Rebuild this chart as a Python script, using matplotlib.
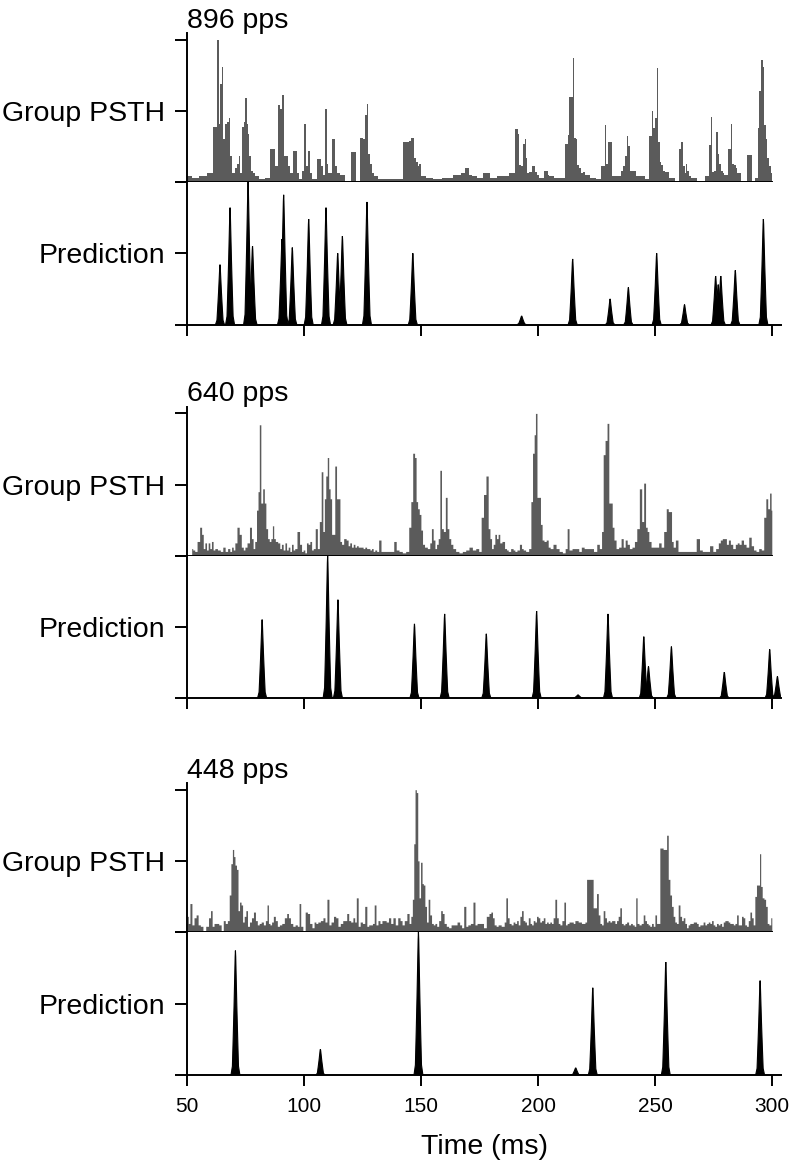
import matplotlib.pyplot as plt
import numpy as np

plt.rcParams['font.family'] = ['Liberation Sans', 'DejaVu Sans']

# pulse rates of the three stimuli
rates = ['896 pps', '640 pps', '448 pps']

# group PSTH: bin time (ms) and height (% of the upper y tick)
psth896_t = [
    50.2, 53.7, 56.6, 60.8, 61.7, 62.4, 63.3, 64.0, 64.4, 65.1,
    65.8, 66.7, 67.4, 68.2, 68.9, 69.7, 70.9, 71.7, 72.4, 73.1,
    73.8, 74.5, 75.1, 75.8, 76.4, 76.9, 77.7, 78.4, 79.4, 82.2,
    84.6, 86.6, 88.6, 89.5, 90.2, 90.9, 91.6, 92.3, 93.0, 93.7,
    94.5, 96.5, 97.2, 98.6, 100.0, 100.4, 101.2, 102.0, 102.7, 104.3,
    107.1, 107.8, 108.6, 109.3, 110.0, 110.7, 113.1, 113.7, 114.3, 116.4,
    118.5, 121.4, 122.8, 125.1, 125.7, 126.5, 127.2, 127.9, 128.6, 129.4,
    130.6, 132.8, 137.0, 139.9, 144.6, 145.3, 146.0, 146.7, 147.5, 148.2,
    148.9, 149.6, 150.6, 153.4, 157.0, 161.3, 166.3, 167.7, 169.5, 171.2,
    172.7, 174.8,
    178.1, 181.2, 184.0, 186.2, 189.3, 190.9, 191.6, 192.3, 193.0, 193.9,
    194.6, 195.2, 195.7, 196.9, 198.3, 199.0, 199.7, 201.1, 203.7, 204.4,
    205.4, 208.3, 210.4, 212.3, 213.0, 213.7, 214.4, 215.1, 215.8, 216.5,
    217.2, 218.0, 218.7, 219.7, 220.4, 223.6, 225.6, 228.2, 228.9, 229.6,
    230.3, 231.1, 231.9, 232.9, 235.3, 236.0, 236.8, 237.5, 238.2, 238.9,
    239.6, 240.3, 241.0, 242.4, 244.6, 246.7, 248.2, 248.9, 249.6, 250.3,
    251.0, 251.7, 252.4, 253.1, 253.8, 254.6, 257.4, 259.5, 261.0, 261.5,
    262.3, 263.0, 263.5, 264.2, 264.9, 265.9, 270.2, 272.8, 273.5, 274.2,
    274.9, 275.6, 276.4, 277.1, 277.8, 278.5, 279.2, 279.9, 282.1, 282.6,
    283.3, 284.1, 284.8, 285.5, 288.0, 290.7, 292.3, 293.4, 294.2, 294.9,
    295.6, 296.3, 297.0, 297.7, 298.4, 299.1, 299.9]
psth896_h = [
    4, 3, 4, 6, 39, 39, 100, 41, 69, 81,
    30, 41, 42, 45, 18, 6, 10, 13, 18, 6,
    39, 42, 59, 41, 34, 18, 8, 6, 4, 2,
    3, 23, 11, 54, 51, 61, 18, 18, 18, 11,
    6, 22, 6, 2, 8, 41, 11, 22, 6, 2,
    16, 11, 5, 51, 13, 6, 30, 11, 6, 5,
    1, 21, 1, 31, 30, 47, 55, 20, 13, 6,
    4, 2, 2, 2, 28, 29, 31, 31, 17, 14,
    11, 13, 4, 3, 2, 3, 5, 6, 10, 5,
    4, 3,
    6, 3, 4, 4, 6, 37, 34, 12, 11, 27,
    30, 17, 6, 7, 11, 7, 5, 3, 8, 5,
    4, 3, 3, 27, 33, 60, 60, 87, 31, 30,
    12, 10, 6, 7, 5, 3, 2, 11, 40, 13,
    28, 28, 4, 4, 4, 8, 11, 18, 32, 25,
    8, 8, 8, 4, 4, 2, 32, 50, 38, 45,
    80, 28, 14, 12, 8, 7, 3, 1, 23, 28,
    11, 6, 13, 8, 4, 3, 1, 4, 26, 46,
    7, 8, 35, 20, 13, 8, 6, 5, 23, 41,
    13, 12, 10, 6, 1, 19, 1, 3, 38, 64,
    86, 81, 40, 30, 17, 11, 6]

psth640_t = [
    52.0, 52.9, 53.7, 54.9, 55.9, 56.6, 57.3, 58.0, 58.7, 59.4,
    60.1, 60.8, 61.5, 62.3, 63.7, 64.8, 65.8, 66.8, 67.9, 68.7,
    69.4, 70.1, 70.8, 71.9, 72.7, 73.7, 74.4, 75.1, 76.2, 77.2,
    77.9, 78.6, 79.3, 80.1, 80.6, 81.2, 81.9, 82.8, 83.3, 84.1,
    84.8, 85.5, 86.2, 86.8, 87.3, 88.2, 89.3, 90.0, 90.7, 91.5,
    92.2, 92.9, 93.6, 94.3, 95.0, 95.7, 96.4, 97.6, 98.6, 99.3,
    100.0, 100.7, 101.4, 102.1, 102.9, 103.6, 104.3, 105.3, 106.1, 107.0,
    107.7, 108.4, 109.0, 109.6, 110.3, 110.8, 111.5, 112.1, 112.8, 113.5,
    114.3, 115.0, 115.7, 116.4, 117.5, 118.5, 119.2, 119.9, 120.7, 121.4,
    122.1, 122.8, 123.5, 124.2, 124.9, 125.6, 126.4, 127.1, 127.8, 128.5,
    129.2, 129.9, 130.6, 131.5, 132.3, 133.5, 134.9, 136.3, 137.8, 138.9,
    139.9, 141.3, 142.7, 144.2, 145.3, 146.0, 146.9, 147.6, 148.2, 148.9,
    149.6, 150.3, 151.0, 152.0, 153.4, 154.1, 154.8, 155.6, 156.3, 157.0,
    157.7, 158.4, 159.1, 160.0, 160.8, 161.5, 162.3, 163.1, 164.1, 165.5,
    166.9, 168.4, 169.8, 171.2, 172.7, 174.1, 175.2, 176.2,
    177.2, 178.3, 179.1, 179.8, 180.5, 181.2, 181.9, 182.6, 183.3, 184.0,
    185.2, 186.2, 186.9, 187.6, 189.0, 189.7, 190.5, 191.5, 192.6, 193.3,
    194.0, 195.4, 196.6, 197.3, 198.0, 198.7, 199.1, 200.0, 200.7, 201.4,
    202.1, 203.0, 204.0, 204.7, 205.7, 207.1, 208.3, 209.7, 211.1, 212.1,
    212.8, 213.7, 215.4, 216.8, 218.0, 219.0, 220.4, 221.8, 222.8, 224.6,
    225.6, 226.8, 227.5, 228.2, 229.1, 229.9, 230.6, 231.3, 232.1, 232.8,
    233.9, 235.0, 236.0, 236.8, 237.7, 238.5, 239.6, 240.7, 241.7, 242.7,
    243.9, 244.7, 245.6, 246.3, 247.0, 247.7, 248.9, 249.9, 251.0, 252.1,
    253.1, 254.3, 255.3, 256.0, 256.7, 257.4, 258.1, 259.3, 260.3, 262.4,
    264.5, 266.7, 268.5, 269.5, 270.9, 272.4, 274.2, 275.2, 276.6, 277.5,
    278.3, 279.2, 280.1, 280.9, 281.8, 282.6, 283.8, 284.8, 285.5, 286.3,
    287.3, 288.3, 289.5, 290.6, 291.6, 292.6, 293.7, 294.9, 295.9, 297.0,
    297.7, 298.6, 299.3, 299.9]
psth640_h = [
    5, 4, 3, 10, 20, 15, 5, 9, 4, 9,
    5, 10, 4, 5, 4, 3, 6, 3, 5, 3,
    6, 4, 9, 20, 15, 6, 4, 6, 9, 20,
    12, 5, 10, 32, 45, 92, 37, 47, 37, 19,
    12, 10, 12, 21, 12, 10, 9, 5, 8, 4,
    9, 4, 6, 3, 8, 4, 5, 17, 8, 3,
    4, 2, 9, 8, 10, 4, 5, 19, 5, 24,
    59, 17, 40, 56, 69, 47, 40, 15, 15, 63,
    40, 40, 10, 8, 12, 11, 7, 9, 6, 8,
    6, 7, 6, 6, 6, 5, 6, 5, 5, 4,
    5, 3, 4, 3, 11, 3, 3, 3, 3, 10,
    4, 3, 2, 3, 20, 38, 72, 69, 38, 33,
    29, 18, 8, 6, 5, 9, 19, 11, 5, 8,
    12, 60, 19, 17, 41, 19, 12, 8, 5, 3,
    2, 3, 4, 6, 4, 5, 3, 27,
    43, 56, 19, 12, 5, 8, 15, 12, 15, 9,
    10, 5, 4, 3, 5, 4, 3, 4, 8, 5,
    4, 3, 5, 38, 72, 85, 100, 41, 41, 22,
    11, 10, 11, 6, 5, 8, 5, 3, 2, 5,
    19, 4, 5, 5, 3, 6, 5, 5, 5, 3,
    8, 5, 17, 71, 81, 93, 37, 37, 20, 11,
    5, 6, 12, 6, 11, 8, 5, 6, 10, 19,
    47, 24, 51, 20, 17, 10, 6, 6, 6, 9,
    6, 17, 33, 31, 31, 10, 6, 11, 3, 3,
    3, 3, 12, 4, 3, 3, 7, 3, 5, 9,
    11, 12, 12, 8, 11, 8, 5, 8, 9, 8,
    11, 8, 6, 13, 7, 4, 3, 5, 4, 27,
    40, 33, 44, 32]

psth448_t = [
    50.2, 50.9, 51.6, 52.6, 53.4, 54.4, 55.1, 56.3, 57.3, 58.7,
    59.7, 60.4, 61.1, 62.0, 63.0, 64.1, 65.1, 65.9, 66.8, 67.7,
    68.4, 69.1, 69.7, 70.2, 70.8, 71.5, 72.1, 72.8, 73.4, 74.1,
    74.8, 75.5, 76.2, 77.2, 77.9, 78.9, 79.6, 80.5, 81.2, 82.2,
    83.1, 83.9, 84.5, 85.1, 85.8, 86.5, 87.3, 88.2, 89.0, 90.0,
    91.0, 92.2, 93.0, 93.7, 94.7, 95.7, 96.7, 97.6, 98.2, 99.0,
    100.0, 101.0, 101.9, 102.9, 103.9, 104.7, 105.4, 106.4, 107.6, 108.6,
    109.3, 110.3, 111.0, 112.1, 113.1, 114.0, 115.0, 116.0, 117.1, 117.8,
    118.7, 119.5, 120.4, 121.4, 121.9, 122.8, 123.5, 124.5, 125.4, 126.5,
    127.2, 128.1, 128.9, 129.6, 130.4, 131.1, 132.1, 132.8, 133.8, 134.6,
    135.6, 136.6, 137.5, 138.5, 139.5, 140.6, 141.5, 142.3, 143.4, 144.5,
    145.3, 146.0, 146.6, 147.2, 147.7, 148.3, 148.9, 149.4, 150.2, 150.7,
    151.3, 152.0, 152.7, 153.4, 154.1, 154.9, 155.6, 156.3, 157.1, 158.0,
    158.8, 159.4, 160.3, 161.3, 162.3, 163.4, 164.8, 166.0, 167.0, 167.7,
    168.8, 169.5, 170.5, 171.7, 172.7, 173.4, 174.5,
    176.2, 177.2, 178.6, 179.5, 180.2, 180.9, 181.6, 182.6, 183.3, 185.2,
    185.9, 186.6, 187.3, 188.0, 189.0, 189.7, 190.5, 191.2, 191.9, 192.6,
    193.3, 194.0, 194.7, 195.4, 196.3, 196.9, 197.6, 198.3, 199.0, 199.7,
    200.4, 201.1, 201.9, 202.6, 203.3, 204.0, 204.7, 205.4, 206.1, 206.8,
    207.6, 208.3, 209.0, 209.7, 210.7, 211.4, 212.1, 212.8, 213.7, 214.7,
    215.4, 216.1, 216.8, 217.5, 218.2, 218.9, 219.7, 220.4, 221.1, 221.8,
    222.5, 223.2, 223.9, 224.6, 225.4, 226.1, 226.8, 227.5, 228.2, 228.9,
    229.6, 230.3, 231.1, 231.8, 232.5, 233.2, 233.9, 234.6, 235.3, 236.0,
    236.8, 237.5, 238.2, 239.2, 239.9, 240.7, 241.5, 242.0, 242.7, 243.6,
    244.6, 245.3, 246.0, 246.7, 247.4, 248.1, 248.9, 249.6, 250.3, 251.0,
    251.7, 252.4, 253.1, 253.8, 254.6, 255.3, 256.0, 256.7, 257.4, 258.1,
    258.8, 259.5, 260.3, 261.0, 261.7, 262.4, 263.1, 263.8, 264.5, 265.2,
    266.0, 266.7, 267.4, 268.1, 268.8, 269.5, 270.2, 270.9, 271.7, 272.4,
    273.1, 273.8, 274.5, 275.2, 275.9, 276.6, 277.4, 278.1, 278.8, 279.5,
    280.2, 280.9, 281.6, 282.3, 283.1, 283.8, 284.5, 285.2, 285.9, 286.6,
    287.3, 288.0, 288.7, 289.5, 290.2, 290.9, 291.6, 292.3, 293.0, 293.7,
    294.4, 294.9, 295.4, 296.2, 296.9, 297.6, 298.3, 299.0, 299.9]
psth448_h = [
    11, 6, 20, 5, 10, 12, 5, 4, 1, 4,
    10, 15, 4, 6, 6, 5, 1, 8, 6, 8,
    26, 48, 58, 53, 47, 44, 15, 21, 19, 7,
    11, 15, 4, 7, 10, 14, 8, 5, 6, 7,
    5, 8, 19, 6, 5, 7, 11, 8, 4, 5,
    6, 10, 13, 10, 6, 4, 5, 4, 20, 4,
    1, 14, 13, 6, 3, 7, 6, 7, 8, 10,
    7, 23, 5, 7, 11, 10, 4, 6, 8, 8,
    13, 8, 7, 10, 7, 24, 4, 7, 6, 18,
    4, 5, 5, 6, 19, 5, 8, 6, 8, 8,
    7, 10, 6, 10, 5, 10, 8, 5, 8, 13,
    6, 11, 23, 62, 100, 98, 50, 24, 49, 34,
    33, 18, 7, 23, 12, 6, 5, 6, 4, 8,
    15, 13, 6, 4, 3, 5, 5, 7, 5, 3,
    18, 4, 5, 6, 21, 5, 6,
    6, 3, 11, 13, 14, 10, 5, 4, 5, 4,
    7, 24, 10, 6, 5, 7, 6, 8, 5, 11,
    15, 8, 7, 5, 10, 6, 5, 8, 7, 11,
    10, 7, 8, 10, 6, 7, 6, 7, 6, 10,
    23, 10, 6, 5, 8, 21, 5, 6, 7, 7,
    6, 8, 8, 7, 7, 6, 6, 7, 37, 37,
    37, 37, 17, 17, 27, 12, 6, 5, 15, 10,
    7, 8, 7, 8, 8, 6, 8, 11, 17, 6,
    5, 6, 7, 5, 6, 5, 4, 24, 6, 5,
    6, 12, 8, 6, 5, 4, 6, 4, 12, 6,
    6, 59, 59, 58, 58, 68, 37, 26, 18, 11,
    7, 6, 19, 11, 8, 10, 6, 3, 5, 6,
    6, 7, 7, 6, 4, 5, 5, 7, 5, 6,
    7, 6, 8, 5, 4, 6, 5, 6, 4, 7,
    8, 8, 7, 6, 6, 5, 6, 12, 5, 5,
    11, 10, 5, 4, 8, 14, 10, 5, 25, 33,
    33, 55, 32, 24, 23, 18, 6, 5, 10]

# model prediction: peak times (ms) and peak heights (% of axis)
pred896_t = [64.1, 68.4, 76.1, 78.0, 90.6, 91.3, 95.0, 102.0, 109.4, 114.4,
             116.4, 126.9, 146.5, 193.0, 214.8, 230.8, 238.6, 250.7, 262.6,
             275.9, 277.0, 278.1, 284.3, 296.3]
pred896_h = [42, 82, 100, 55, 60, 91, 54, 74, 82, 50,
             62, 86, 50, 6, 46, 18, 26, 50, 14,
             34, 28, 34, 38, 74]
pred640_t = [82.1, 110.1, 114.5, 147.2, 160.1, 177.9, 199.4, 217.1, 229.9,
             245.2, 247.2, 257.0, 279.6, 299.0, 302.3]
pred640_h = [55, 100, 69, 52, 59, 45, 61, 2, 59,
             43, 22, 36, 18, 34, 15]
pred448_t = [70.7, 107.0, 148.9, 216.1, 223.4, 254.6, 294.9]
pred448_h = [87, 18, 100, 5, 61, 79, 66]

# shape of one predicted peak: time offset (ms), relative height
peak_dt = [-1.9, -1.3, -0.95, -0.6, -0.3, -0.12, 0.0,
           0.12, 0.3, 0.6, 0.95, 1.3, 1.9]
peak_shape = [0.0, 0.07, 0.3, 0.55, 0.8, 0.95, 1.0,
              0.95, 0.8, 0.55, 0.3, 0.07, 0.0]

psth_t = [psth896_t, psth640_t, psth448_t]
psth_h = [psth896_h, psth640_h, psth448_h]
pred_t = [pred896_t, pred640_t, pred448_t]
pred_h = [pred896_h, pred640_h, pred448_h]

# ---- layout (pixels of a 789 x 1166 figure) ----
W, H = 789, 1166
x_left, x_right = 187, 781.4
psth_span = 148.7
# (psth baseline, prediction baseline) for each block
baselines = [(182, 324.5), (555.7, 697.7), (932, 1075)]

fig = plt.figure(figsize=(W / 100, H / 100), dpi=100)

def add_ax(top, bottom):
    return fig.add_axes([x_left / W, 1 - bottom / H,
                         (x_right - x_left) / W, (bottom - top) / H])

GRAY = '#5b5b5b'
LW = 1.4

for i, rate in enumerate(rates):
    y_psth, y_pred = baselines[i]

    # Group PSTH, drawn as a filled step histogram
    ax1 = add_ax(y_psth - psth_span, y_psth)
    ax1.fill_between(psth_t[i], psth_h[i], step='mid', color=GRAY, lw=0)
    ax1.set_xlim(50, 304)
    ax1.set_ylim(0, 104.5)
    ax1.set_yticks([0, 50, 100], ['', 'Group PSTH', ''])
    ax1.spines[['top', 'right']].set_visible(False)
    ax1.spines['bottom'].set_bounds(50, 300)
    for s in ax1.spines.values():
        s.set_linewidth(LW)
    ax1.tick_params(axis='x', bottom=False, labelbottom=False)
    ax1.tick_params(axis='y', length=8.5, width=LW, pad=7, labelsize=20.5)
    ax1.annotate(rate, xy=(0, 1), xycoords='axes fraction', xytext=(0, 4),
                 textcoords='offset points', ha='left', va='baseline',
                 fontsize=20.5)

    # Prediction
    ax2 = add_ax(y_psth, y_pred)
    for t, h in zip(pred_t[i], pred_h[i]):
        ax2.fill(np.add(t, peak_dt), np.multiply(h, peak_shape),
                 color='black', lw=0.8)
    ax2.set_xlim(50, 304)
    ax2.set_ylim(0, 100)
    ax2.set_yticks([0, 50, 100], ['', 'Prediction', ''])
    ax2.set_xticks(range(50, 301, 50))
    ax2.spines[['top', 'right']].set_visible(False)
    for s in ax2.spines.values():
        s.set_linewidth(LW)
    ax2.tick_params(axis='y', length=8.5, width=LW, pad=7, labelsize=20.5)
    ax2.tick_params(axis='x', length=8, width=LW, pad=8, labelsize=15,
                    labelbottom=(i == 2))
    if i == 2:
        ax2.set_xlabel('Time (ms)', fontsize=20.5, labelpad=13)

fig.savefig('out.png', dpi=100)
